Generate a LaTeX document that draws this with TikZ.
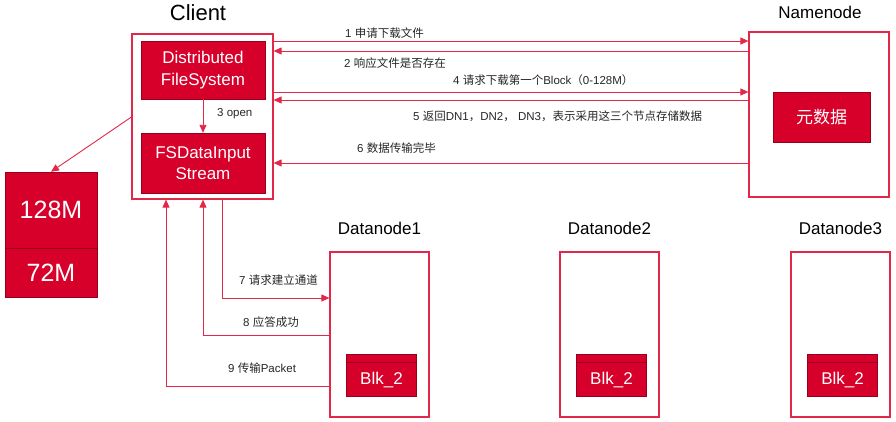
\documentclass[tikz,border=0pt]{standalone}
\usepackage{fontspec}
\setmainfont{Liberation Sans}
\newfontfamily\cjk{Noto Sans CJK SC}
\newcommand{\zh}[1]{{\cjk #1}}
\usetikzlibrary{arrows.meta,calc}
\definecolor{hdred}{RGB}{215,0,42}
\definecolor{hdline}{RGB}{226,40,72}
\definecolor{hddark}{RGB}{150,0,28}

\begin{document}
\begin{tikzpicture}[x=1pt,y=-1pt,
    frame/.style={draw=hdline,line width=1.2pt,inner sep=0pt},
    redbox/.style={draw=hddark,fill=hdred,text=white,inner sep=0pt,align=center,font=\fontsize{17}{21.5}\selectfont},
    link/.style={draw=hdline,line width=0.9pt,-{Triangle[length=8pt,width=7pt]}},
    tag/.style={font=\fontsize{11.5}{13}\selectfont,text=black!85,anchor=west,inner sep=0pt},
    title/.style={font=\fontsize{17}{20}\selectfont}]

    \useasboundingbox (0,0) rectangle (896,421);

    % client side
    \node (client) at (202.5,116.5) [frame,minimum width=141pt,minimum height=165pt] {};
    \node (clientlbl) at (198,13) [font=\fontsize{22}{24}\selectfont] {Client};
    \node (dfs) at (203,70) [redbox,minimum width=124pt,minimum height=58pt] {Distributed\\FileSystem};
    \node (fsd) at (203,163) [redbox,minimum width=124pt,minimum height=60pt] {FSDataInput\\Stream};
    \draw[link] (dfs) -- (fsd);
    \node (t3) at (217,114) [tag] {3 open};

    % file blocks
    \node (mem128) at (51,210) [redbox,minimum width=92pt,minimum height=76pt,font=\fontsize{25}{27}\selectfont] {128M};
    \node (mem72) at (51,272.5) [redbox,minimum width=92pt,minimum height=49pt,font=\fontsize{25}{27}\selectfont] {72M};
    \draw[link] (client.west |- 0,117) -- (mem128.north);

    % namenode
    \node (namenode) at (819,114.5) [frame,minimum width=140pt,minimum height=165pt] {};
    \node (namelbl) at (820,12) [title] {Namenode};
    \node (meta) at (821.5,117) [redbox,minimum width=97pt,minimum height=50pt] {\zh{元数据}};

    \draw[link] (client.east |- 0,41) -- (namenode.west |- 0,41);
    \draw[link] (namenode.west |- 0,51) -- (client.east |- 0,51);
    \draw[link] (client.east |- 0,92) -- (namenode.west |- 0,92);
    \draw[link] (namenode.west |- 0,100) -- (client.east |- 0,100);
    \draw[link] (namenode.west |- 0,163) -- (client.east |- 0,163);

    \node (t1) at (345,33) [tag] {1 \zh{申请下载文件}};
    \node (t2) at (344,63) [tag] {2 \zh{响应文件是否存在}};
    \node (t4) at (453,80) [tag] {4 \zh{请求下载第一个}Block\zh{（}0-128M\zh{）}};
    \node (t5) at (413,116) [tag] {5 \zh{返回}DN1\zh{，}DN2\zh{，} DN3\zh{，表示采用这三个节点存储数据}};
    \node (t6) at (357,148) [tag] {6 \zh{数据传输完毕}};

    % datanodes
    \foreach \n/\x in {1/379.5, 2/609.5, 3/840.5}
        {
            \node (dn\n) at (\x,334.5) [frame,minimum width=99pt,minimum height=165pt] {};
            \node (dnlbl\n) at (\x,228) [title] {Datanode\n};
            \node (blk\n) at ($(dn\n)+(2,40.5)$) [redbox,minimum width=70pt,minimum height=42pt] {};
            \draw[hddark,line width=0.9pt] ($(blk\n.north west)+(0,9)$) -- ($(blk\n.north east)+(0,9)$);
            \node (blktxt\n) at ($(blk\n)+(0,5)$) [text=white,font=\fontsize{17}{20}\selectfont] {Blk\_2};
        }

    \draw[link] (client.south -| 222,0) |- (dn1.west |- 0,298);
    \draw[link] (dn1.west |- 0,335) -| (client.south -| 203,0);
    \draw[link] (dn1.west |- 0,386) -| (client.south -| 166,0);

    \node (t7) at (239,280) [tag] {7 \zh{请求建立通道}};
    \node (t8) at (243,322) [tag] {8 \zh{应答成功}};
    \node (t9) at (228,368) [tag] {9 \zh{传输}Packet};

\end{tikzpicture}
\end{document}
